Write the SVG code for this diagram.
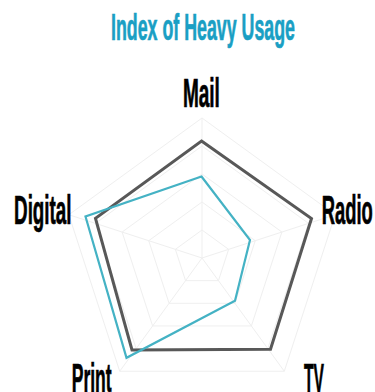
<svg xmlns="http://www.w3.org/2000/svg" width="375" height="392" viewBox="0 0 375 392">
<style>
.title{font-family:"Liberation Sans Narrow","Liberation Sans","DejaVu Sans Condensed",sans-serif;font-weight:700;font-size:36px;fill:#1a9fc4;stroke:#1a9fc4;stroke-width:0.7;text-anchor:middle}
.lbl{font-family:"Liberation Sans Narrow","Liberation Sans","DejaVu Sans Condensed",sans-serif;font-weight:700;font-size:40px;fill:#000;stroke:#000;stroke-width:0.7;text-anchor:middle}
.grid{fill:none;stroke:#efefef;stroke-width:1}
.gray{fill:none;stroke:#585858;stroke-width:3;stroke-linejoin:miter}
.teal{fill:none;stroke:#44b2c4;stroke-width:2.2;stroke-linejoin:miter}
</style>
<rect width="375" height="392" fill="#fff"/>
<text class="title" x="203" y="40" textLength="184" lengthAdjust="spacingAndGlyphs">Index of Heavy Usage</text>
<g id="grid">
<polygon class="grid" points="202,118 335.15,214.74 284.29,371.26 119.71,371.26 68.85,214.74"/>
<polygon class="grid" points="202,146 308.52,223.39 267.83,348.61 136.17,348.61 95.48,223.39"/>
<polygon class="grid" points="202,174 281.89,232.04 251.38,325.96 152.62,325.96 122.11,232.04"/>
<polygon class="grid" points="202,202 255.26,240.70 234.92,303.30 169.08,303.30 148.74,240.70"/>
<polygon class="grid" points="202,230 228.63,249.35 218.46,280.65 185.54,280.65 175.37,249.35"/>
<path class="grid" d="M202,258L202,118M202,258L335.15,214.74M202,258L284.29,371.26M202,258L119.71,371.26M202,258L68.85,214.74"/>
</g>
<g id="series">
<polygon id="series-gray" class="gray" points="201.5,141 311.5,218.5 270.5,349.3 132,350 95.5,218.3"/>
<polygon id="series-teal" class="teal" points="201.5,176.5 250,240 235,300.7 126.5,357.8 85.5,216.5"/>
</g>
<g id="node-mail"><text class="lbl" x="201.4" y="107" font-size="36" textLength="37" lengthAdjust="spacingAndGlyphs">Mail</text></g>
<g id="node-radio"><text class="lbl" x="347.3" y="224" textLength="51" lengthAdjust="spacingAndGlyphs">Radio</text></g>
<g id="node-tv"><text class="lbl" x="314" y="392" textLength="20" lengthAdjust="spacingAndGlyphs">TV</text></g>
<g id="node-print"><text class="lbl" x="91.7" y="392" textLength="40" lengthAdjust="spacingAndGlyphs">Print</text></g>
<g id="node-digital"><text class="lbl" x="42.8" y="224" textLength="57.5" lengthAdjust="spacingAndGlyphs">Digital</text></g>
</svg>
